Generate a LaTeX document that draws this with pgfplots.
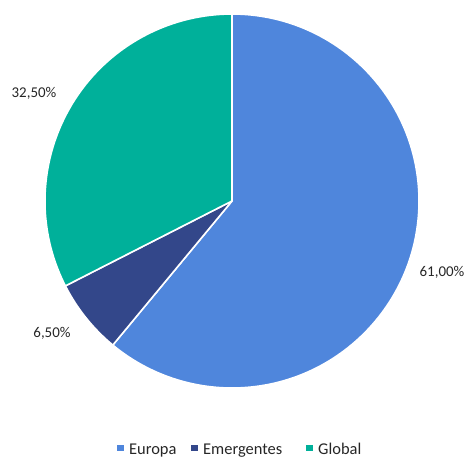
\documentclass[border=0pt]{standalone}
\usepackage{pgfplots}
\pgfplotsset{compat=1.18}
\usepackage{fontspec}
\setmainfont{Carlito}
\definecolor{europa}{HTML}{4F86DC}
\definecolor{emerg}{HTML}{33478A}
\definecolor{global}{HTML}{00B09A}
\definecolor{txt}{HTML}{262626}
\begin{document}
\begin{tikzpicture}
\begin{axis}[
    x=1bp, y=1bp,
    xmin=0, xmax=471, ymin=0, ymax=453,
    hide axis, clip=false,
  ]
  % pie: share in percent, colour
  \pgfplotsextra{
    \def\start{90}
    \foreach \v/\c in {61/europa, 6.5/emerg, 32.5/global} {
      \pgfmathsetmacro\endang{\start - 3.6*\v}
      \fill[\c, draw=white, line width=1.6bp, line join=round]
        (axis cs:232,252) -- ++(\start:187bp)
        arc[start angle=\start, end angle=\endang, radius=187bp] -- cycle;
      \global\let\start\endang
    }
  }
  % data labels
  \node[txt, font=\fontsize{15}{18}\selectfont] at (axis cs:442,181) {61,00\%};
  \node[txt, font=\fontsize{15}{18}\selectfont] at (axis cs:52,120) {6,50\%};
  \node[txt, font=\fontsize{15}{18}\selectfont] at (axis cs:34,360) {32,50\%};
  % legend
  \pgfplotsextra{
    \foreach \x/\t/\c/\n in {117/129/europa/Europa, 191/203/emerg/Emergentes, 306/318/global/Global} {
      \fill[\c] (axis cs:\x,2) rectangle (axis cs:\x+6.5,8.5);
      \node[txt, anchor=base west, inner sep=0pt, font=\fontsize{16.5}{19}\selectfont]
        at (axis cs:\t,-1) {\n};
    }
  }
\end{axis}
\useasboundingbox (0,0) rectangle (471bp,453bp);
\end{tikzpicture}
\end{document}
